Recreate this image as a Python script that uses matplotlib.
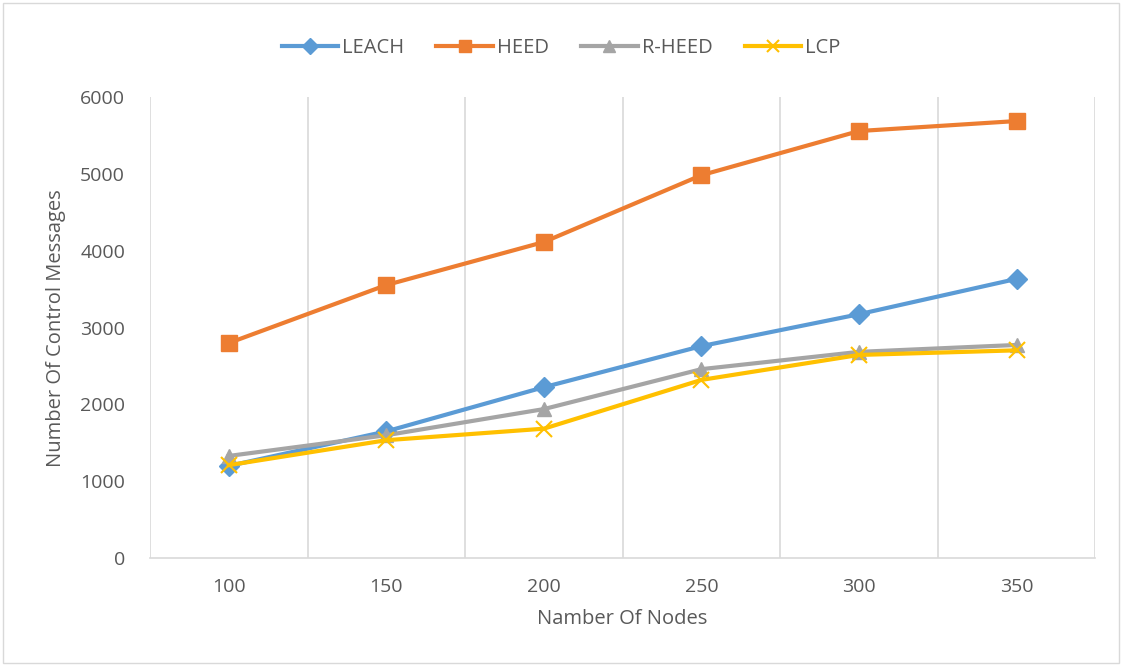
import matplotlib
matplotlib.use("Agg")
import matplotlib.pyplot as plt
from matplotlib.patches import Rectangle

nodes = ["100", "150", "200", "250", "300", "350"]
leach = [1200, 1650, 2225, 2760, 3175, 3635]
heed = [2800, 3555, 4115, 4985, 5560, 5690]
rheed = [1330, 1600, 1940, 2460, 2685, 2775]
lcp = [1210, 1535, 1685, 2320, 2645, 2705]

plt.rcParams['font.family'] = ['Open Sans', 'DejaVu Sans']
fig = plt.figure(figsize=(11.22, 6.66), dpi=100)
ax = fig.add_axes([0.1337, 0.162, 0.8425, 0.692])

x = list(range(len(nodes)))
series = [
    ("LEACH", leach, "#5B9BD5", "D", 10),
    ("HEED", heed, "#ED7D31", "s", 11),
    ("R-HEED", rheed, "#A5A5A5", "^", 10),
    ("LCP", lcp, "#FFC000", "x", 11),
]
for name, vals, col, mk, ms in series:
    kw = dict(color=col, lw=3, marker=mk, markersize=ms, label=name,
              markerfacecolor=col, markeredgecolor=col)
    if mk == "x":
        kw["markeredgewidth"] = 1.5
    ax.plot(x, vals, **kw)

ax.set_xlim(-0.5, len(nodes) - 0.5)
ax.set_ylim(0, 6000)
ax.set_yticks(range(0, 6001, 1000))
ax.set_xticks(x)
ax.set_xticklabels(nodes)
for b in [i + 0.5 for i in range(len(nodes) - 1)] + [len(nodes) - 0.5]:
    ax.axvline(b, color="#D9D9D9", lw=1.2, zorder=0)
for s in ["top", "right", "left"]:
    ax.spines[s].set_visible(False)
ax.spines["bottom"].set_color("#D9D9D9")
ax.spines["bottom"].set_linewidth(1.2)
ax.axvline(-0.5, color="#D9D9D9", lw=1.2, zorder=0)
ax.tick_params(axis="both", length=0, colors="#595959", labelsize=14)
ax.tick_params(axis="x", pad=14)
ax.tick_params(axis="y", pad=18)
ax.set_xlabel("Namber Of Nodes", fontsize=14.5, color="#595959", labelpad=10)
ax.set_ylabel("Number Of Control Messages", fontsize=14.5, color="#595959", labelpad=10)

leg = fig.legend(loc="upper center", bbox_to_anchor=(0.5, 0.97), ncol=4, frameon=False,
                 fontsize=14.5, handlelength=2.8, columnspacing=1.6, handletextpad=0.2,
                 markerscale=0.8)
for t in leg.get_texts():
    t.set_color("#595959")

fig.patches.append(Rectangle((0.003, 0.004), 0.994, 0.992, transform=fig.transFigure,
                             fill=False, edgecolor="#D9D9D9", lw=1))
fig.savefig("out.png", dpi=100)
